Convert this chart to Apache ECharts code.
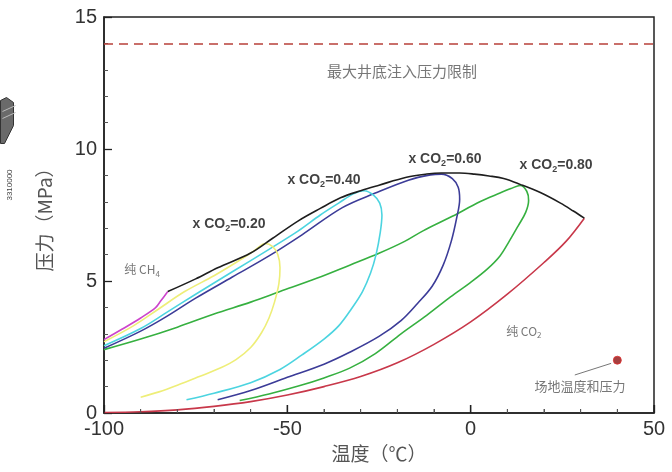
<!DOCTYPE html>
<html><head><meta charset="utf-8">
<script src="https://cdn.jsdelivr.net/npm/echarts@6/dist/echarts.min.js"></script>
<style>html,body{margin:0;padding:0;background:#fff}#c{width:672px;height:472px}</style>
</head><body><div id="c"></div>
<script>
// axis ranges / ticks
const xRange = [-100, 50], xStep = 50, xMinorStep = 10;
const yRange = [0, 15], yStep = 5;
const xTitle = '温度（℃）';
const yTitle = '压力（MPa）';

// curves: [temperature °C, pressure MPa]
const envelope = [[-82.6,4.6],[-75,5.08],[-69,5.5],[-60,6.06],[-54,6.62],[-47,7.28],[-41,7.75],[-35.5,8.15],[-30,8.42],[-25,8.63],[-17.5,8.93],[-12,9.05],[-8,9.09],[-3,9.09],[1,9.05],[5,8.98],[9,8.88],[13.5,8.66],[19,8.35],[24.5,7.95],[28,7.65],[31,7.38]];
const pureCH4 = [[-100,2.78],[-95,3.18],[-90,3.6],[-86,3.98],[-84.5,4.25],[-82.6,4.6]];
const pureCO2 = [[-100,0.02],[-90,0.05],[-80,0.12],[-70,0.25],[-60,0.43],[-50,0.68],[-40,1.0],[-30,1.38],[-20,1.9],[-10,2.6],[0,3.45],[10,4.5],[20,5.7],[26,6.5],[31,7.38]];
const xCO2_020 = [[-90,0.6],[-85,0.8],[-80,1.05],[-74,1.38],[-68,1.72],[-64,2.02],[-60,2.48],[-57,3.05],[-55,3.6],[-53.5,4.2],[-52.3,4.9],[-52,5.5],[-52.6,6.0],[-54,6.3],[-56,6.42],[-59,6.15],[-64,5.7],[-70,5.2],[-78,4.6],[-85,3.95],[-92,3.3],[-100,2.7]];
const xCO2_040 = [[-77.5,0.5],[-70,0.75],[-60,1.15],[-52,1.65],[-46,2.2],[-40,2.8],[-36,3.3],[-32.5,3.95],[-29.5,4.6],[-27.3,5.3],[-25.8,6.0],[-24.7,6.8],[-24.2,7.5],[-24.8,7.95],[-26.5,8.25],[-29,8.42],[-32,8.3],[-36,7.95],[-41,7.5],[-47,6.9],[-55,6.2],[-65,5.35],[-75,4.5],[-83,3.8],[-90,3.2],[-100,2.55]];
const xCO2_060 = [[-69,0.5],[-60,0.85],[-50,1.35],[-40,1.85],[-33,2.3],[-25,2.9],[-19,3.5],[-14.5,4.15],[-10.5,4.8],[-7.5,5.6],[-5.3,6.5],[-3.8,7.4],[-3,8.1],[-3.4,8.55],[-5,8.88],[-8,9.05],[-11,9.02],[-17,8.82],[-26,8.33],[-35,7.78],[-46,6.75],[-55,5.95],[-65,5.15],[-75,4.35],[-83,3.65],[-90,3.1],[-100,2.45]];
const xCO2_080 = [[-63,0.47],[-55,0.72],[-47,1.02],[-40,1.33],[-33,1.7],[-26,2.25],[-19,3.0],[-12,3.7],[-5.5,4.4],[0,4.95],[4.5,5.45],[8,5.95],[10.5,6.5],[13,7.1],[15,7.6],[15.8,8.05],[15.3,8.4],[13.5,8.62],[11,8.5],[8,8.33],[2.5,8.0],[-5,7.45],[-13,6.9],[-18,6.5],[-25,6.05],[-33,5.6],[-42,5.1],[-52,4.6],[-60,4.2],[-70,3.75],[-80,3.25],[-90,2.8],[-100,2.4]];

const injectLimit = 14;            // MPa
const sitePoint = [40, 2.0];       // site temperature & pressure
const arrowFrom = [28.4, 1.44], arrowTo = [38.3, 1.88];

// annotations
const annoPos = [[-65.9,7.16],[-40.0,8.83],[-7.0,9.62],[23.3,9.39],[-18.7,12.95],[-89.6,5.42],[14.5,3.1],[29.8,1.02]];
const annoText = ['{b|x CO}{s|2}{b|=0.20}','{b|x CO}{s|2}{b|=0.40}','{b|x CO}{s|2}{b|=0.60}','{b|x CO}{s|2}{b|=0.80}',
  '{g|最大井底注入压力限制}','{n|纯 CH}{ns|4}','{n|纯 CO}{ns|2}','{m|场地温度和压力}'];

const colors = {env:'#1e1e1e', ch4:'#cc44cc', co2:'#c8384a', y02:'#eeee78', c04:'#4cd4e0', n06:'#3c3c98', g08:'#36b040'};

// bottom-axis tick positions (drawn through the x scale)
const xTickVals = [];
for (let v = xRange[0]; v <= xRange[1]; v += xMinorStep) xTickVals.push(v);

const chart = echarts.init(document.getElementById('c'), null, {renderer:'canvas'});
function curve(name, data, color) {
  return {name, type:'line', data, symbol:'none', smooth:0.35, lineStyle:{color, width:1.6}, z:3, silent:true};
}
const rich = {
  b:{fontFamily:'Liberation Sans, Arial', fontSize:14, fontWeight:'bold', color:'#111', lineHeight:18},
  s:{fontFamily:'Liberation Sans, Arial', fontSize:9, fontWeight:'bold', color:'#111', lineHeight:10, verticalAlign:'bottom'},
  g:{fontFamily:'Noto Sans CJK SC', fontSize:15, color:'#555', lineHeight:18},
  n:{fontFamily:'Noto Sans CJK SC', fontSize:12, color:'#555', lineHeight:16},
  ns:{fontFamily:'Noto Sans CJK SC', fontSize:8, color:'#555', lineHeight:9, verticalAlign:'bottom'},
  m:{fontFamily:'Noto Sans CJK SC', fontSize:13, color:'#555', lineHeight:16}
};
const tick = {show:true, inside:true, length:8, lineStyle:{color:'#222', width:1.3}};
const minor = {show:true, splitNumber:5, length:4, lineStyle:{color:'#555', width:1}};

chart.setOption({
  animation:false,
  backgroundColor:'#fff',
  grid:{left:104, right:18, top:17, bottom:59, show:true, borderColor:'#222', borderWidth:1.5, backgroundColor:'transparent'},
  xAxis:{type:'value', position:'bottom', min:xRange[0], max:xRange[1], interval:xStep,
    name:xTitle, nameLocation:'middle', nameGap:28,
    nameTextStyle:{fontFamily:'Noto Sans CJK SC', fontSize:19, color:'#555'},
    axisLine:{show:true, onZero:false, lineStyle:{color:'#222', width:1.5}},
    axisTick:tick, minorTick:minor,
    axisLabel:{fontFamily:'Liberation Sans, Arial', fontSize:20, color:'#333', margin:6},
    splitLine:{show:false}, minorSplitLine:{show:false}},
  yAxis:{type:'value', position:'left', min:yRange[0], max:yRange[1], interval:yStep,
    name:yTitle, nameLocation:'middle', nameGap:50, nameRotate:90,
    nameTextStyle:{fontFamily:'Noto Sans CJK SC', fontSize:19, color:'#555'},
    axisLine:{show:true, onZero:false, lineStyle:{color:'#222', width:1.5}},
    axisTick:tick, minorTick:minor,
    axisLabel:{fontFamily:'Liberation Sans, Arial', fontSize:20, color:'#333', margin:7},
    splitLine:{show:false}, minorSplitLine:{show:false}},
  graphic:[
    {type:'polygon', left:0, top:97, shape:{points:[[0,3],[6,0],[13,5],[13,28],[4,46],[0,46]]}, style:{fill:'#6a6a6a', stroke:'#333', lineWidth:1}},
    {type:'polyline', left:0, top:103, shape:{points:[[0,6],[13,0]]}, style:{stroke:'#bbb', lineWidth:1}},
    {type:'polyline', left:0, top:110, shape:{points:[[0,6],[13,0]]}, style:{stroke:'#bbb', lineWidth:1}},
    {type:'text', x:10, y:185, rotation:Math.PI/2, style:{text:'3310000', fontSize:8, fontFamily:'Liberation Sans', fill:'#444', align:'center', verticalAlign:'middle'}}
  ],
  series:[
    curve('纯CO2', pureCO2, colors.co2),
    curve('0.80', xCO2_080, colors.g08),
    curve('0.60', xCO2_060, colors.n06),
    curve('0.40', xCO2_040, colors.c04),
    curve('0.20', xCO2_020, colors.y02),
    curve('纯CH4', pureCH4, colors.ch4),
    Object.assign(curve('临界轨迹', envelope, colors.env), {z:4}),
    {type:'line', data:[], markLine:{silent:true, symbol:'none', label:{show:false},
      lineStyle:{type:[9,6], color:'#b8403a', width:1.6}, data:[{yAxis:injectLimit}]}},
    {type:'line', data:[], markLine:{silent:true, symbol:['none','arrow'], symbolSize:[0,6], label:{show:false},
      lineStyle:{type:'solid', color:'#777', width:1}, data:[[{coord:arrowFrom},{coord:arrowTo}]]}},
    {type:'scatter', data:[sitePoint], symbolSize:8, itemStyle:{color:'#8e0f0f', borderColor:'#e03030', borderWidth:1}, z:5},
    {type:'custom', silent:true, clip:false, z:7, data:xTickVals.map(v=>[v, yRange[0]]),
      renderItem:function(params, api){
        const v = api.value(0);
        const p = api.coord([v, yRange[0]]);
        const major = Math.abs(v % xStep) < 1e-9;
        const len = major ? 8 : 4;
        return {type:'line', shape:{x1:p[0], y1:p[1], x2:p[0], y2:p[1]-len},
          style:{stroke: major ? '#222' : '#555', lineWidth: major ? 1.3 : 1}};
      }},
    {type:'scatter', symbolSize:0, silent:true, z:6,
      data:annoPos.map((p,i)=>({value:p, label:{show:true, position:'inside', formatter:annoText[i], rich}}))}
  ]
});
</script></body></html>
